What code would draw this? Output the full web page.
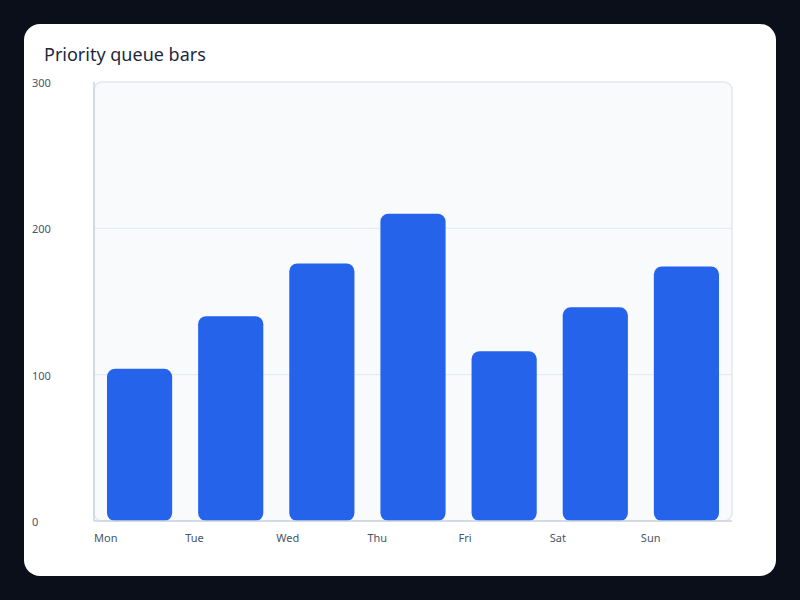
<!DOCTYPE html>
<html>
<head>
<meta charset="utf-8">
<script src="https://cdn.jsdelivr.net/npm/d3@7"></script>
<style>
  html, body { margin: 0; padding: 0; background: #0b0f19; }
  body { width: 800px; height: 600px; font-family: "Noto Sans", "Open Sans", sans-serif; }
</style>
</head>
<body>
<div id="chart"></div>
<script>
const days = ["Mon", "Tue", "Wed", "Thu", "Fri", "Sat", "Sun"];
const values = [104, 140, 176, 210, 116, 146, 174];
const yTicks = [0, 100, 200, 300];

const width = 800;
const height = 600;
const plot = { left: 94, right: 732, top: 82, bottom: 521 };

const svg = d3
  .select("#chart")
  .append("svg")
  .attr("width", width)
  .attr("height", height);

// card
svg
  .append("rect")
  .attr("x", 24)
  .attr("y", 24)
  .attr("width", 752)
  .attr("height", 552)
  .attr("rx", 16)
  .attr("fill", "#ffffff");

svg
  .append("text")
  .attr("x", 44)
  .attr("y", 61)
  .attr("font-size", 18)
  .attr("fill", "#1e293b")
  .text("Priority queue bars");

const x = d3
  .scaleBand()
  .domain(days)
  .range([plot.left, plot.right])
  .paddingInner(0.285)
  .paddingOuter(0.1425);

const y = d3
  .scaleLinear()
  .domain([0, 300])
  .range([plot.bottom, plot.top]);

// plot background
svg
  .append("rect")
  .attr("x", plot.left)
  .attr("y", plot.top)
  .attr("width", plot.right - plot.left)
  .attr("height", plot.bottom - plot.top)
  .attr("rx", 8)
  .attr("fill", "#f8fafc")
  .attr("stroke", "#e2e8f0")
  .attr("stroke-width", 1.5);

// grid
svg
  .append("g")
  .selectAll("line")
  .data(yTicks.filter(t => t > 0 && t < 300))
  .join("line")
  .attr("x1", plot.left)
  .attr("x2", plot.right)
  .attr("y1", d => y(d))
  .attr("y2", d => y(d))
  .attr("stroke", "#e2e8f0")
  .attr("stroke-width", 1);

// y tick labels
svg
  .append("g")
  .selectAll("text")
  .data(yTicks)
  .join("text")
  .attr("x", 32)
  .attr("y", d => y(d) + 5)
  .attr("font-size", 11)
  .attr("fill", "#475569")
  .text(d => d);

// bars
svg
  .append("g")
  .selectAll("rect")
  .data(values)
  .join("rect")
  .attr("x", (d, i) => x(days[i]))
  .attr("y", d => y(d))
  .attr("width", x.bandwidth())
  .attr("height", d => y(0) - y(d))
  .attr("rx", 8)
  .attr("fill", "#2563eb");

// axes lines
svg
  .append("line")
  .attr("x1", plot.left)
  .attr("x2", plot.left)
  .attr("y1", plot.top)
  .attr("y2", plot.bottom)
  .attr("stroke", "#cbd5e1")
  .attr("stroke-width", 1.5);

svg
  .append("line")
  .attr("x1", plot.left)
  .attr("x2", plot.right)
  .attr("y1", plot.bottom)
  .attr("y2", plot.bottom)
  .attr("stroke", "#cbd5e1")
  .attr("stroke-width", 1.5);

// x labels, left aligned at the start of each step
const step = x.step();
svg
  .append("g")
  .selectAll("text")
  .data(days)
  .join("text")
  .attr("x", d => x(d) - step * x.paddingOuter())
  .attr("y", 542)
  .attr("font-size", 11)
  .attr("fill", "#475569")
  .text(d => d);
</script>
</body>
</html>
